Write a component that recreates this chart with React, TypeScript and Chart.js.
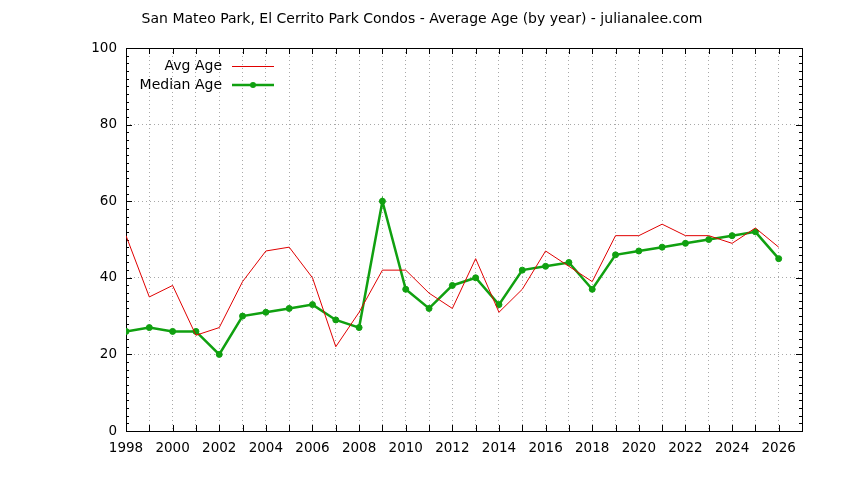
import { useEffect, useRef } from 'react'
import { Chart, registerables } from 'chart.js'

Chart.register(...registerables)

const years = [
  1998, 1999, 2000, 2001, 2002, 2003, 2004, 2005, 2006, 2007,
  2008, 2009, 2010, 2011, 2012, 2013, 2014, 2015, 2016, 2017,
  2018, 2019, 2020, 2021, 2022, 2023, 2024, 2025, 2026,
]
const avgAge = [
  51, 35, 38, 25, 27, 39, 47, 48, 40, 22,
  31, 42, 42, 36, 32, 45, 31, 37, 47, 43,
  39, 51, 51, 54, 51, 51, 49, 53, 48,
]
const medianAge = [
  26, 27, 26, 26, 20, 30, 31, 32, 33, 29,
  27, 60, 37, 32, 38, 40, 33, 42, 43, 44,
  37, 46, 47, 48, 49, 50, 51, 52, 45,
]

const TITLE = 'San Mateo Park, El Cerrito Park Condos - Average Age (by year) - julianalee.com'
const FONT = '"DejaVu Sans", sans-serif'
const RED = '#e00000'
const GREEN = '#10a010'

// inward ticks + frame, gnuplot style
const framePlugin = {
  id: 'frame',
  beforeDatasetsDraw(chart: Chart) {
    const { ctx, chartArea: a, scales } = chart
    const x = scales.x
    const y = scales.y
    ctx.save()
    ctx.strokeStyle = '#000'
    ctx.lineWidth = 1
    ctx.beginPath()
    for (let v = 1998; v <= 2027; v++) {
      const px = Math.round(x.getPixelForValue(v)) + 0.5
      ctx.moveTo(px, a.bottom)
      ctx.lineTo(px, a.bottom - 6)
      ctx.moveTo(px, a.top)
      ctx.lineTo(px, a.top + 6)
    }
    for (let v = 0; v <= 100; v += 2) {
      const py = Math.round(y.getPixelForValue(v)) + 0.5
      const len = v % 20 === 0 ? 6 : 3
      ctx.moveTo(a.left, py)
      ctx.lineTo(a.left + len, py)
      ctx.moveTo(a.right, py)
      ctx.lineTo(a.right - len, py)
    }
    ctx.stroke()
    ctx.strokeRect(Math.round(a.left) + 0.5, Math.round(a.top) + 0.5,
      Math.round(a.right - a.left), Math.round(a.bottom - a.top))
    ctx.restore()
  },
  afterDraw(chart: Chart) {
    const { ctx } = chart
    ctx.save()
    ctx.fillStyle = '#000'
    ctx.font = `14px ${FONT}`
    ctx.textAlign = 'center'
    ctx.textBaseline = 'middle'
    ctx.fillText(TITLE, 422, 19)

    // legend
    ctx.textAlign = 'right'
    ctx.fillText('Avg Age', 222, 66)
    ctx.fillText('Median Age', 222, 85)
    ctx.strokeStyle = RED
    ctx.lineWidth = 1
    ctx.beginPath()
    ctx.moveTo(232, 66.5)
    ctx.lineTo(274, 66.5)
    ctx.stroke()
    ctx.strokeStyle = GREEN
    ctx.lineWidth = 2.5
    ctx.beginPath()
    ctx.moveTo(232, 85)
    ctx.lineTo(274, 85)
    ctx.stroke()
    ctx.fillStyle = GREEN
    ctx.beginPath()
    ctx.arc(253, 85, 3, 0, Math.PI * 2)
    ctx.fill()
    ctx.restore()
  },
}

export default function App() {
  const canvasRef = useRef<HTMLCanvasElement>(null)

  useEffect(() => {
    if (!canvasRef.current) return
    const chart = new Chart(canvasRef.current, {
      type: 'line',
      data: {
        datasets: [
          {
            label: 'Avg Age',
            data: years.map((yr, i) => ({ x: yr, y: avgAge[i] })),
            borderColor: RED,
            borderWidth: 1,
            pointRadius: 0,
            tension: 0,
          },
          {
            label: 'Median Age',
            data: years.map((yr, i) => ({ x: yr, y: medianAge[i] })),
            borderColor: GREEN,
            backgroundColor: GREEN,
            borderWidth: 2.5,
            pointRadius: 3,
            pointBorderWidth: 1,
            tension: 0,
          },
        ],
      },
      options: {
        animation: false,
        responsive: true,
        maintainAspectRatio: false,
        layout: { padding: { top: 48, right: 42, left: 0, bottom: 0 } },
        plugins: {
          legend: { display: false },
          title: { display: false },
          tooltip: { enabled: false },
        },
        scales: {
          x: {
            type: 'linear',
            min: 1998,
            max: 2027,
            afterFit: (s: any) => { s.height = 49 },
            ticks: {
              stepSize: 1,
              autoSkip: false,
              maxRotation: 0,
              padding: 9,
              color: '#000',
              font: { family: FONT, size: 13.5 },
              callback: (v: any) => (v % 2 === 0 && v <= 2026 ? String(v) : ''),
            },
            grid: { color: '#a8a8a8', drawTicks: false, lineWidth: 1 },
            border: { display: false, dash: [1, 3] },
          },
          y: {
            min: 0,
            max: 100,
            afterFit: (s: any) => { s.width = 126 },
            ticks: {
              stepSize: 20,
              padding: 9,
              color: '#000',
              font: { family: FONT, size: 13.5 },
            },
            grid: { color: '#a8a8a8', drawTicks: false, lineWidth: 1 },
            border: { display: false, dash: [1, 3] },
          },
        },
      },
      plugins: [framePlugin],
    })
    return () => chart.destroy()
  }, [])

  return (
    <div style={{ position: 'absolute', left: 0, top: 0, width: 844, height: 480, background: '#fff' }}>
      <canvas ref={canvasRef} />
    </div>
  )
}
